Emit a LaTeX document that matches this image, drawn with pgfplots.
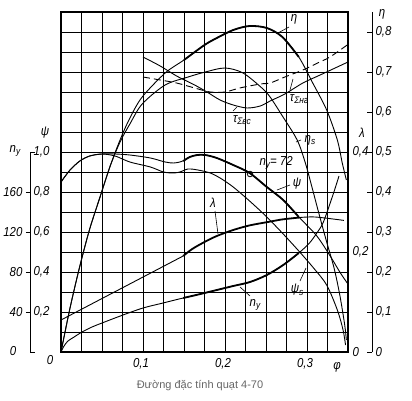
\documentclass[border=0pt]{standalone}
\usepackage{pgfplots}
\pgfplotsset{compat=1.18}
\usepackage{fontspec}
\setmainfont{Liberation Sans}
\newfontfamily\labf{Liberation Sans}[FakeStretch=0.88]
\newcommand{\lf}{\labf\itshape\fontsize{13}{13}\selectfont}
\newcommand{\sub}[1]{\raisebox{-0.35ex}{\fontsize{9.5}{9.5}\selectfont #1}}
\begin{document}
\begin{tikzpicture}[x=1pt,y=1pt]
\useasboundingbox (0,0) rectangle (412,400);
% main axis
\begin{axis}[at={(61pt,48pt)}, anchor=south west, scale only axis,
 width=287pt, height=340pt,
 xmin=0, xmax=0.35, ymin=0, ymax=1.7,
 xtick={0.025,0.05,...,0.326}, ytick={0.1,0.2,...,1.61},
 xticklabels={}, yticklabels={},
 major tick length=0pt,
 grid=major, grid style={black, line width=0.5pt},
 axis line style={line width=1.1pt},
 extra x ticks={0.1,0.2,0.3}, extra x tick labels={{0,1},{0,2},{0,3}},
 extra x tick style={grid=none, major tick length=0pt},
 xticklabel style={font=\lf, yshift=-3pt, xshift=-2pt}]
% eta
\addplot[black, line width=0.9pt, smooth] coordinates {(0,0) (0.011,0.22) (0.023,0.43) (0.035,0.615) (0.048,0.78) (0.06,0.93) (0.072,1.06) (0.084,1.17) (0.099,1.275) (0.127,1.395) (0.15,1.46) (0.175,1.535) (0.19,1.57) (0.21,1.61) (0.23,1.63) (0.251,1.62) (0.27,1.575) (0.29,1.475) (0.307,1.345) (0.324,1.21) (0.337,1.06) (0.343,0.945) (0.348,0.86)};
\addplot[black, smooth, line width=1.8pt] coordinates {(0.15,1.46) (0.175,1.535) (0.19,1.57) (0.21,1.61) (0.23,1.63) (0.251,1.62) (0.27,1.575) (0.29,1.475)};
% eta_s
\addplot[black, line width=0.9pt, smooth] coordinates {(0,0) (0.011,0.22) (0.023,0.43) (0.035,0.615) (0.048,0.78) (0.06,0.93) (0.072,1.05) (0.084,1.14) (0.099,1.24) (0.127,1.335) (0.155,1.375) (0.176,1.40) (0.2,1.42) (0.222,1.395) (0.245,1.32) (0.255,1.275) (0.27,1.18) (0.288,1.06) (0.298,0.945) (0.306,0.825) (0.315,0.685) (0.324,0.55) (0.333,0.42) (0.34,0.285) (0.346,0.135) (0.348,0.06)};
% tau_nh dashed
\addplot[black, line width=0.9pt, smooth, dash pattern=on 7pt off 4pt] coordinates {(0.1,1.375) (0.121,1.36) (0.141,1.345) (0.163,1.32) (0.182,1.30) (0.2,1.30) (0.218,1.32) (0.243,1.34) (0.255,1.345) (0.273,1.375) (0.295,1.41) (0.313,1.445) (0.328,1.475) (0.349,1.535)};
% tau_vs
\addplot[black, line width=0.9pt, smooth] coordinates {(0.1,1.475) (0.121,1.43) (0.141,1.38) (0.163,1.335) (0.178,1.30) (0.194,1.26) (0.21,1.235) (0.227,1.22) (0.243,1.23) (0.255,1.255) (0.273,1.29) (0.295,1.345) (0.316,1.385) (0.35,1.45)};
% psi
\addplot[black, line width=0.9pt, smooth] coordinates {(0,0.85) (0.011,0.91) (0.023,0.955) (0.035,0.98) (0.05,0.99) (0.066,0.99) (0.084,0.985) (0.109,0.97) (0.127,0.95) (0.137,0.945) (0.145,0.95) (0.151,0.96) (0.157,0.975) (0.166,0.985) (0.176,0.985) (0.19,0.97) (0.21,0.935) (0.23,0.895) (0.251,0.825) (0.271,0.76) (0.29,0.675) (0.312,0.58) (0.329,0.475) (0.34,0.40) (0.349,0.345)};
\addplot[black, smooth, line width=1.8pt] coordinates {(0.149,0.955) (0.151,0.96) (0.157,0.975) (0.166,0.985) (0.176,0.985) (0.19,0.97) (0.21,0.935) (0.23,0.895) (0.251,0.825) (0.271,0.76) (0.29,0.675)};
% psi_s
\addplot[black, line width=0.9pt, smooth] coordinates {(0,0.85) (0.011,0.91) (0.023,0.955) (0.035,0.98) (0.05,0.99) (0.066,0.98) (0.084,0.95) (0.109,0.925) (0.125,0.90) (0.137,0.895) (0.145,0.90) (0.155,0.915) (0.167,0.91) (0.182,0.895) (0.194,0.87) (0.21,0.825) (0.23,0.755) (0.251,0.675) (0.271,0.59) (0.29,0.505) (0.308,0.42) (0.324,0.335) (0.337,0.21) (0.344,0.11) (0.347,0.035)};
% lambda
\addplot[black, line width=0.9pt] coordinates {(0,0.16) (0.149,0.48)};
\addplot[black, smooth, line width=1.8pt] coordinates {(0.149,0.48) (0.16,0.515) (0.175,0.55) (0.19,0.58) (0.21,0.61) (0.23,0.633) (0.255,0.652) (0.27,0.663) (0.29,0.672)};
\addplot[black, line width=0.9pt, smooth] coordinates {(0.29,0.672) (0.31,0.675) (0.345,0.658)};
% n_y
\addplot[black, line width=0.9pt, smooth] coordinates {(0,0) (0.0037,0.03) (0.0085,0.055) (0.016,0.075) (0.0256,0.10) (0.0378,0.125) (0.05,0.145) (0.0756,0.185) (0.1,0.22) (0.1244,0.245) (0.149,0.27) (0.17,0.29) (0.19,0.31) (0.21,0.33) (0.2305,0.35) (0.251,0.385) (0.271,0.435) (0.29,0.495) (0.303,0.545) (0.312,0.595) (0.32,0.65) (0.332,0.79) (0.339,0.88)};
\addplot[black, smooth, line width=1.8pt] coordinates {(0.149,0.27) (0.17,0.29) (0.19,0.31) (0.21,0.33) (0.2305,0.35) (0.251,0.385) (0.271,0.435) (0.29,0.495)};
% marker n_y = 72
\addplot[black, only marks, mark=o, mark size=2.8pt, mark options={fill=white, line width=0.8pt}] coordinates {(0.2305,0.89)};
\end{axis}
% left n_y scale
\begin{axis}[at={(30pt,48pt)}, anchor=south west, scale only axis,
 width=5pt, height=200pt, xmin=0, xmax=1, ymin=0, ymax=200,
 axis x line=none, axis y line=left, axis line style={-, line width=0.9pt},
 ytick={40,80,120,160}, yticklabels={40,80,120,160},
 tick align=outside, major tick length=4pt, tick style={line width=0.9pt, black},
 yticklabel style={font=\lf}]
\end{axis}
\draw[line width=0.9pt] (30,48) -- (35,48);
\draw[line width=0.9pt] (30,248) -- (35,248);
% psi labels
\begin{axis}[at={(30pt,48pt)}, anchor=south east, scale only axis,
 width=5pt, height=200pt, xmin=0, xmax=1, ymin=0, ymax=1,
 axis x line=none, axis y line=right, axis line style={draw=none},
 ytick={0.2,0.4,0.6,0.8,1.0}, yticklabels={{0,2},{0,4},{0,6},{0,8},{1,0}},
 major tick length=0pt, yticklabel style={font=\lf}]
\end{axis}
% lambda labels
\begin{axis}[at={(349pt,48pt)}, anchor=south east, scale only axis,
 width=5pt, height=200pt, xmin=0, xmax=1, ymin=0, ymax=0.4,
 axis x line=none, axis y line=right, axis line style={draw=none},
 ytick={0,0.2,0.4}, yticklabels={0,{0,2},{0,4}},
 major tick length=0pt, yticklabel style={font=\lf}]
\end{axis}
% eta scale
\begin{axis}[at={(372pt,48pt)}, anchor=south east, scale only axis,
 width=5pt, height=340pt, xmin=0, xmax=1, ymin=0, ymax=0.85,
 axis x line=none, axis y line=right, axis line style={-, line width=0.9pt},
 ytick={0,0.1,0.2,0.3,0.4,0.5,0.6,0.7,0.8},
 yticklabels={0,{0,1},{0,2},{0,3},{0,4},{0,5},{0,6},{0,7},{0,8}},
 tick align=inside, major tick length=5pt, tick style={line width=0.9pt, black},
 yticklabel style={font=\lf}]
\end{axis}
% axis titles
\node[font=\lf] at (45,267) {ψ};
\node[font=\lf] at (15,249) {n\sub{y}};
\node[font=\lf] at (13,49) {0};
\node[font=\lf] at (50,40) {0};
\node[font=\lf] at (362,267) {λ};
\node[font=\lf] at (382,386) {η};
\node[font=\lf] at (337,33) {φ};
% curve labels
\node[font=\lf] at (294,381) {η};
\draw[line width=0.6pt] (289,373) -- (278,367);
\node[font=\lf] at (310,260) {η\sub{s}};
\draw[line width=0.6pt] (301,260) -- (296,258);
\node[font=\lf] at (299,301) {τ\sub{Σнг}};
\draw[line width=0.6pt] (290,310) -- (293,321);
\node[font=\lf] at (242,280) {τ\sub{Σвс}};
\draw[line width=0.6pt] (233,289) -- (237,293);
\node[font=\lf, anchor=west] at (256,237) {n\sub{y}= 72};
\node[font=\lf] at (297,216) {ψ};
\draw[line width=0.6pt] (290,215) -- (277,210);
\node[font=\lf] at (213,197) {λ};
\draw[line width=0.6pt] (215,189) -- (218,166);
\node[font=\lf] at (297,110) {ψ\sub{s}};
\draw[line width=0.6pt] (300,119) -- (306,132);
\node[font=\lf] at (255,95) {n\sub{y}};
\draw[line width=0.6pt] (250,104) -- (240,113);
% caption
\node[text=black!60, font=\fontsize{11}{11}\selectfont] at (200,14) {Đường đặc tính quạt 4-70};
\end{tikzpicture}
\end{document}
